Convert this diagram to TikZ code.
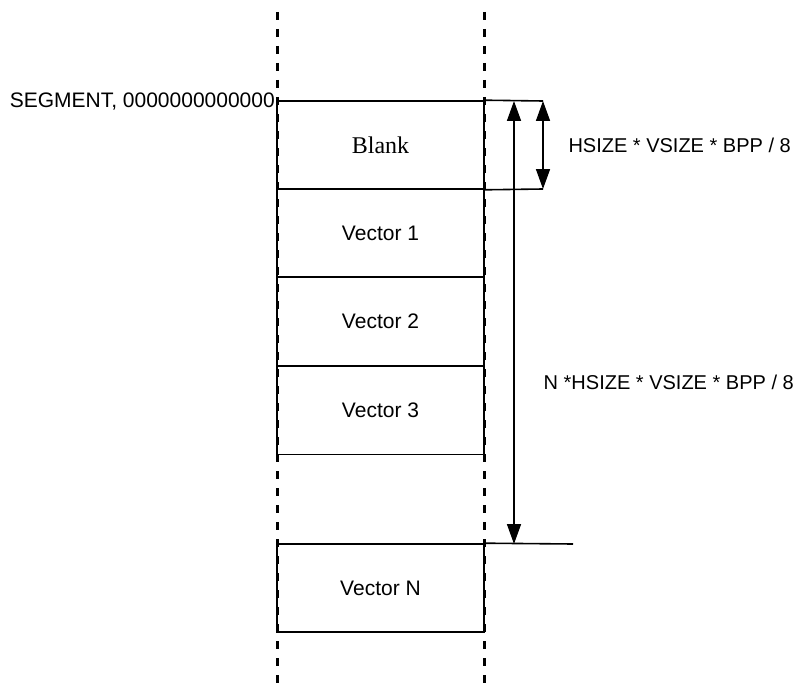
\documentclass[tikz,border=0pt]{standalone}
\usepackage{fontspec}
\setmainfont{Liberation Sans}
\newfontfamily\serifblank{Liberation Serif}
\usetikzlibrary{arrows.meta}
\begin{document}
\begin{tikzpicture}[x=1pt,y=-1pt,
  box/.style={draw, line width=1.6pt, minimum width=207pt, minimum height=88pt, inner sep=0pt, font=\fontsize{21}{25}\selectfont},
  thin/.style={line width=1.6pt},
  vdash/.style={line width=3pt, dash pattern=on 8pt off 9pt},
  dim/.style={line width=1.6pt, {Triangle[length=20pt,width=14pt]}-{Triangle[length=20pt,width=14pt]}},
  lbl/.style={font=\fontsize{20}{24}\selectfont, inner sep=0pt}]
\useasboundingbox (0,0) rectangle (796,685);
% memory blocks
\node[box, font=\serifblank\fontsize{24}{28}\selectfont] (blank) at (380.5,145) {Blank};
\node[box] (v1) at (380.5,233) {Vector 1};
\node[box] (v2) at (380.5,321.5) {Vector 2};
\node[box] (v3) at (380.5,410.5) {Vector 3};
\node[box] (vn) at (380.5,588) {Vector N};
% vertical dashed boundaries
\coordinate (ltop) at (277,12);
\coordinate (lbot) at (277,685);
\coordinate (rtop) at (484,12);
\coordinate (rbot) at (484,685);
\draw[vdash] (ltop) -- (lbot);
\draw[vdash] (rtop) -- (rbot);
% extension lines
\coordinate (e1) at (543,101);
\coordinate (e2) at (543,189);
\coordinate (e3) at (573,544);
\draw[thin] (blank.north east) -- (e1);
\draw[thin] (blank.south east) -- (e2);
\draw[thin] (vn.north east) -- (e3);
% dimension arrows
\coordinate (a1) at (514,101);
\coordinate (a2) at (514,544);
\draw[dim] (a1) -- (a2);
\draw[dim] (e1) -- (e2);
% labels
\node[lbl, font=\fontsize{21}{25}\selectfont, anchor=base east] (seg) at (275,107) {SEGMENT, 0000000000000};
\node[lbl, anchor=east] (hs) at (791,145) {HSIZE * VSIZE * BPP / 8};
\node[lbl, anchor=east] (nl) at (794,382) {N *HSIZE * VSIZE * BPP / 8};
\end{tikzpicture}
\end{document}
